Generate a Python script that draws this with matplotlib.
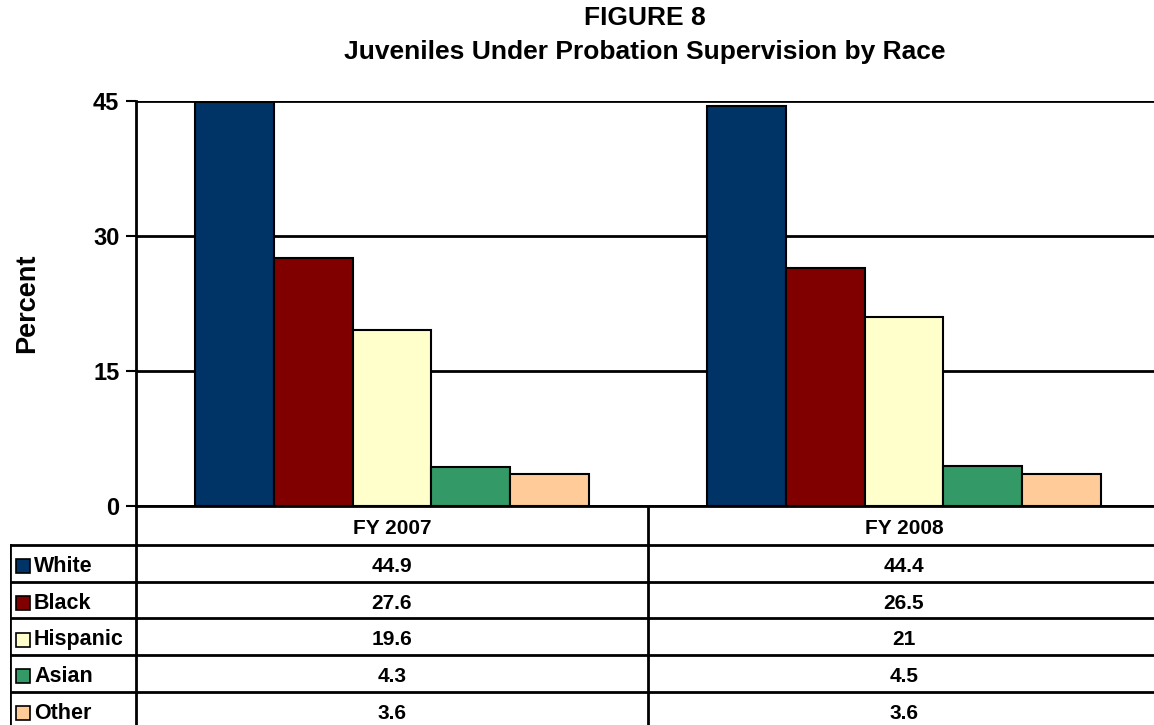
import numpy as np
import matplotlib
matplotlib.use("Agg")
import matplotlib.pyplot as plt
from matplotlib.patches import Rectangle

plt.rcParams['font.family'] = ['Liberation Sans', 'DejaVu Sans']
plt.rcParams['font.weight'] = 'bold'

# data
years = ["FY 2007", "FY 2008"]
races = ["White", "Black", "Hispanic", "Asian", "Other"]
white = [44.9, 44.4]
black = [27.6, 26.5]
hispanic = [19.6, 21]
asian = [4.3, 4.5]
other = [3.6, 3.6]
values = [white, black, hispanic, asian, other]
colors = ["#003366", "#800000", "#FFFFCC", "#339966", "#FFCC99"]

W, H = 1154, 725
fig = plt.figure(figsize=(W / 100, H / 100), dpi=100)

def fx(px):
    return px / W

def fy(py):
    return 1 - py / H

# main bar axes
ax_left, ax_right, ax_top, ax_bot = 136, 1160, 101, 506
ax = fig.add_axes([fx(ax_left), fy(ax_bot), fx(ax_right - ax_left), fy(ax_top) - fy(ax_bot)])
x = np.arange(len(years))
bw = 0.154
for i, (vals, c) in enumerate(zip(values, colors)):
    ax.bar(x + 0.5 + (i - 2) * bw, vals, width=bw, color=c, edgecolor="black", linewidth=1.5, zorder=3)
ax.set_xlim(0, 2)
ax.set_ylim(0, 45)
ax.set_yticks([0, 15, 30, 45])
ax.set_yticklabels(["0", "15", "30", "45"], fontsize=17, fontweight="bold")
ax.tick_params(axis="y", length=7, width=1.5, pad=5)
ax.set_xticks([])
ax.grid(axis="y", color="black", linewidth=2, zorder=0)
for s in ["top", "right"]:
    ax.spines[s].set_visible(False)
ax.spines["left"].set_linewidth(2)
ax.spines["bottom"].set_linewidth(2)
fig.text(fx(27), fy(303), "Percent", rotation=90, ha="center", va="center", fontsize=19.5, fontweight="bold")

fig.text(fx(645), fy(18), "FIGURE 8", ha="center", va="center", fontsize=19, fontweight="bold")
fig.text(fx(645), fy(52), "Juveniles Under Probation Supervision by Race",
         ha="center", va="center", fontsize=19, fontweight="bold")

# data table below
tab_left = 10
tax = fig.add_axes([fx(tab_left), 0, fx(ax_right - tab_left), fy(ax_bot)])
tax.set_xlim(-(ax_left - tab_left) / 512, (ax_right - ax_left) / 512)
tax.set_ylim(H, ax_bot)
tax.axis("off")
head_bot = 545
row_h = 36.7
lw = 2
xl = -(ax_left - tab_left) / 512
# vertical lines
tax.plot([0, 0], [ax_bot, H], color="black", lw=lw)
tax.plot([1, 1], [ax_bot, H], color="black", lw=lw)
tax.plot([xl, xl], [head_bot, H], color="black", lw=lw)
for j, yr in enumerate(years):
    tax.text(j + 0.5, (ax_bot + head_bot) / 2 + 3, yr, ha="center", va="center", fontsize=15, fontweight="bold")
sw = 14
for r, (name, c, vals) in enumerate(zip(races, colors, values)):
    top = head_bot + r * row_h
    tax.plot([xl, 2], [top, top], color="black", lw=lw)
    yc = top + row_h / 2 + 3
    tax.add_patch(Rectangle((xl + 6 / 512, yc - sw / 2), sw / 512, sw,
                            facecolor=c, edgecolor="black", lw=1.2))
    tax.text(xl + 24 / 512, yc, name, ha="left", va="center",
             fontsize=15.5, fontweight="bold")
    for j in range(len(years)):
        tax.text(j + 0.5, yc, f"{vals[j]:g}", ha="center", va="center", fontsize=15, fontweight="bold")

fig.savefig("out.png", dpi=100)
